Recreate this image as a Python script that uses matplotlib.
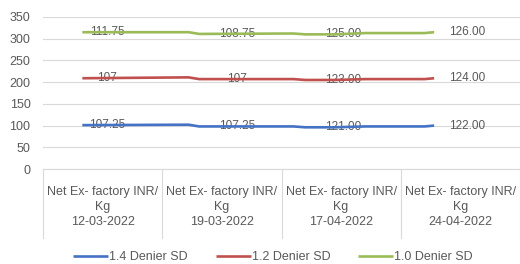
import numpy as np
import matplotlib
matplotlib.use("Agg")
import matplotlib.pyplot as plt
from matplotlib.transforms import blended_transform_factory

plt.rcParams['font.family'] = ['Liberation Sans', 'DejaVu Sans']

# 카테고리 (날짜)
dates = ["12-03-2022", "19-03-2022", "17-04-2022", "24-04-2022"]
cat_label = "Net Ex- factory INR/\nKg"

# 선 위치 (그림에서 읽은 값, 카테고리 단위 x)
line_x = [-0.17, 0.72, 0.81, 1.60, 1.70, 1.95, 2.20, 2.70, 2.78]
s14 = [101, 102, 98, 98, 96, 96, 98, 98, 100]
s12 = [209, 211, 207, 207, 205, 205, 207, 207, 209]
s10 = [315, 315, 311, 312, 310, 310, 313, 313, 315]

# 데이터 라벨
label_x = [0.04, 1.13, 2.02, 3.06]
lab14 = ["107.25", "107.25", "121.00", "122.00"]
lab12 = ["107", "107", "123.00", "124.00"]
lab10 = ["111.75", "108.75", "125.00", "126.00"]

names = ["1.4 Denier SD", "1.2 Denier SD", "1.0 Denier SD"]
colors = ["#4472C4", "#C0504D", "#9BBB59"]

fig = plt.figure(figsize=(5.2, 2.64), dpi=100)
ax = fig.add_axes([43/520, 1 - 169/264, 477/520, 152/264])

grey = "#595959"
for vals, labs, name, col in zip([s14, s12, s10], [lab14, lab12, lab10], names, colors):
    ax.plot(line_x, vals, color=col, lw=1.9, label=name, solid_capstyle='butt', zorder=3)
    for lx, t in zip(label_x, labs):
        ly = np.interp(lx, line_x, vals)
        ax.text(lx, ly, t, ha='center', va='center', fontsize=8.5, color=grey, zorder=2)

ax.set_xlim(-0.5, 3.5)
ax.set_ylim(0, 350)
ax.set_yticks(range(0, 351, 50))
ax.yaxis.grid(True, color="#D9D9D9", lw=0.8)
ax.set_axisbelow(True)
for s in ['top', 'right', 'left']:
    ax.spines[s].set_visible(False)
ax.spines['bottom'].set_color("#D9D9D9")
ax.tick_params(axis='y', length=0, pad=9, labelsize=9, labelcolor=grey)

ax.set_xticks(range(len(dates)))
ax.set_xticklabels([f"{cat_label}\n{d}" for d in dates], fontsize=9, color=grey, linespacing=1.35)
ax.tick_params(axis='x', length=0, pad=12)

# 카테고리 구분선
tr = blended_transform_factory(ax.transData, ax.transAxes)
for b in np.arange(-0.5, len(dates), 1.0):
    ax.plot([b, b], [0, -0.455], transform=tr, color="#D9D9D9", lw=0.8, clip_on=False)

fig.legend(loc='center', bbox_to_anchor=(273/520, 1 - 257/264), ncol=3, frameon=False,
           fontsize=9, labelcolor=grey, handlelength=2.8, handletextpad=0.1, columnspacing=2.2)

plt.savefig("out.png", dpi=100)
